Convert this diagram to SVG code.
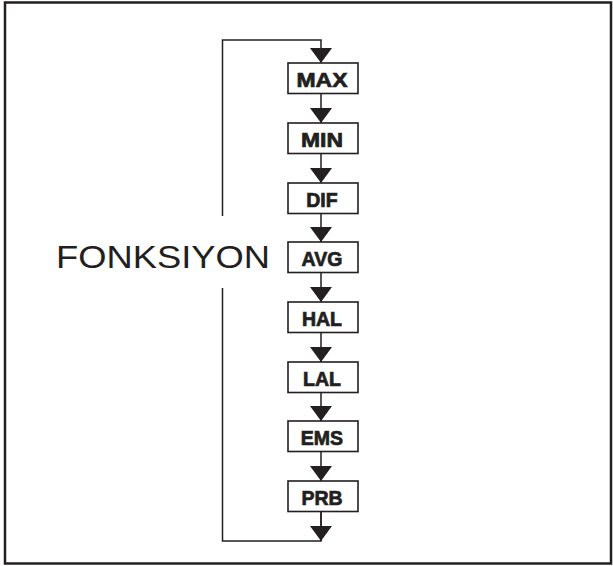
<svg xmlns="http://www.w3.org/2000/svg" width="613" height="566" viewBox="0 0 613 566">
<style>
.box{fill:#fff;stroke:#231f20;stroke-width:1.6}
.lbl{font-family:"Liberation Sans",Arial,sans-serif;font-weight:bold;font-size:19.5px;fill:#231f20;stroke:#231f20;stroke-width:0.7;text-anchor:middle}
.ln{fill:none;stroke:#231f20;stroke-width:1.5}
.ah{fill:#231f20}
</style>
<rect x="5" y="2.5" width="606" height="561" fill="#fff" stroke="#231f20" stroke-width="2.5"/>
<g id="connectors">
<path class="ln" d="M222.5 216 V40 H321 V63"/>
<path class="ln" d="M222.5 288 V541 H321 V512"/>
<path class="ln" d="M321 94 V541"/>
<g id="arrowheads">
<polygon class="ah" points="310,48 332,48 321,63"/>
<polygon class="ah" points="310,108 332,108 321,123"/>
<polygon class="ah" points="310,168 332,168 321,183"/>
<polygon class="ah" points="310,227 332,227 321,242"/>
<polygon class="ah" points="310,287 332,287 321,302"/>
<polygon class="ah" points="310,347 332,347 321,362"/>
<polygon class="ah" points="310,406 332,406 321,421"/>
<polygon class="ah" points="310,466 332,466 321,481"/>
<polygon class="ah" points="310,526 332,526 321,541"/>
</g>
</g>
<g id="n-max"><rect class="box" x="288" y="63" width="70" height="30.5"/><text class="lbl" x="322" y="87" textLength="51" lengthAdjust="spacingAndGlyphs">MAX</text></g>
<g id="n-min"><rect class="box" x="288" y="123" width="70" height="30.5"/><text class="lbl" x="322" y="147" textLength="42" lengthAdjust="spacingAndGlyphs">MIN</text></g>
<g id="n-dif"><rect class="box" x="288" y="183" width="70" height="30.5"/><text class="lbl" x="322" y="207">DIF</text></g>
<g id="n-avg"><rect class="box" x="288" y="242" width="70" height="30.5"/><text class="lbl" x="322" y="266">AVG</text></g>
<g id="n-hal"><rect class="box" x="288" y="302" width="70" height="30.5"/><text class="lbl" x="322" y="326">HAL</text></g>
<g id="n-lal"><rect class="box" x="288" y="362" width="70" height="30.5"/><text class="lbl" x="322" y="386">LAL</text></g>
<g id="n-ems"><rect class="box" x="288" y="421" width="70" height="30.5"/><text class="lbl" x="322" y="445">EMS</text></g>
<g id="n-prb"><rect class="box" x="288" y="481" width="70" height="30.5"/><text class="lbl" x="322" y="505">PRB</text></g>
<g id="title"><text x="56" y="268" font-family="Liberation Sans,Arial,sans-serif" font-size="31" fill="#231f20" textLength="214" lengthAdjust="spacingAndGlyphs">FONKSIYON</text></g>
</svg>
